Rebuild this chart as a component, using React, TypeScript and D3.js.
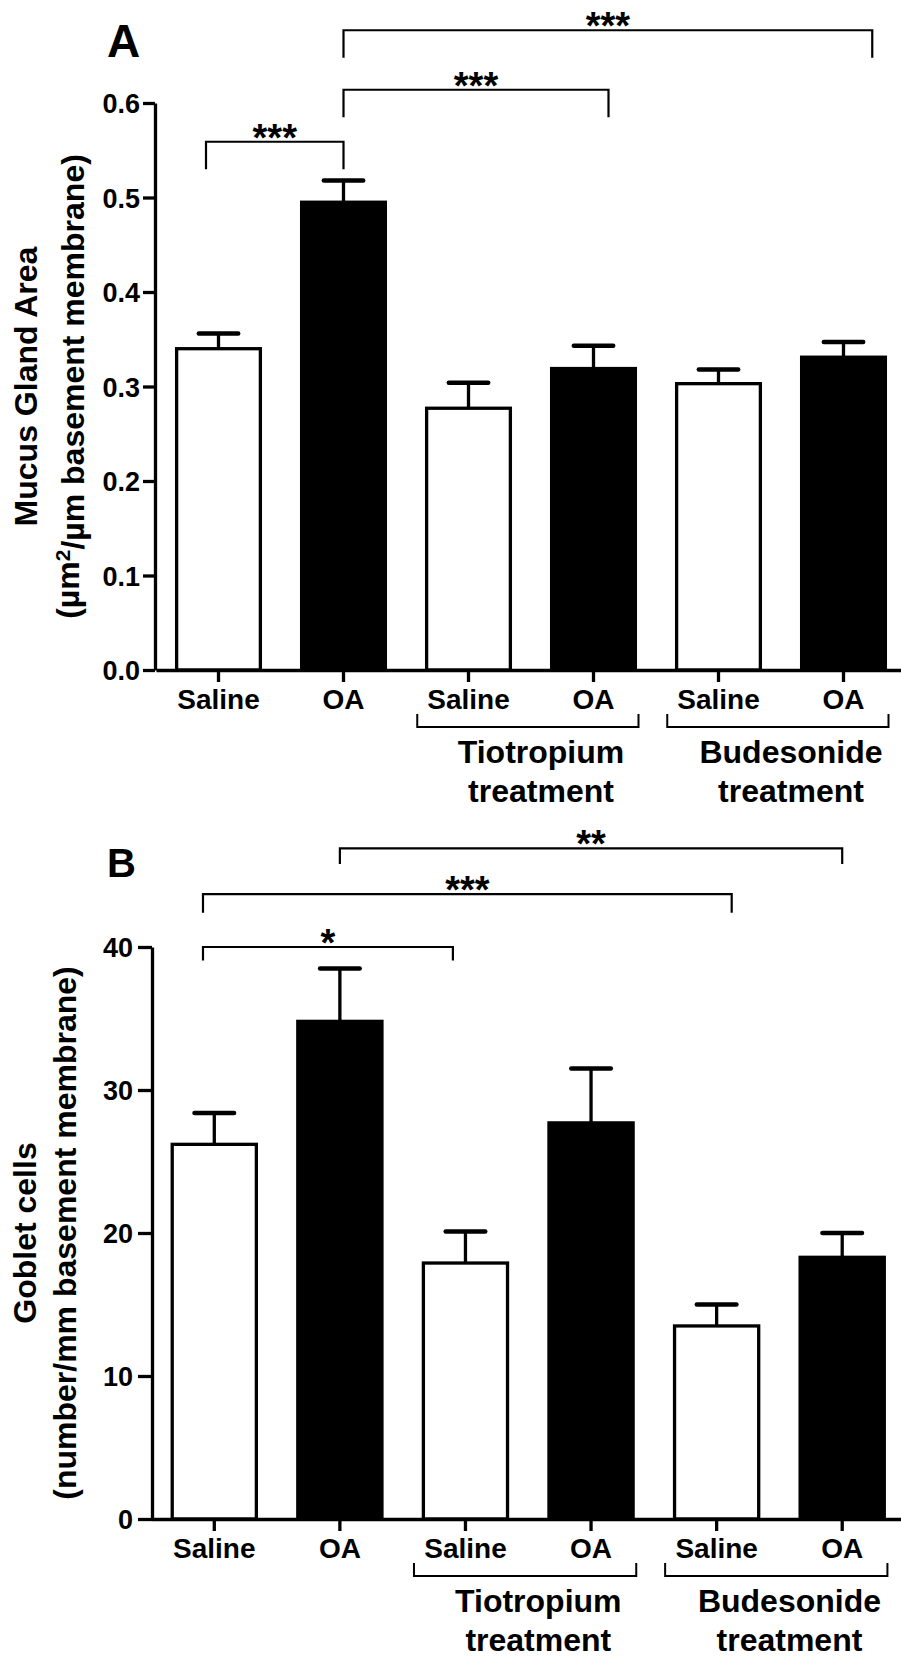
import { useEffect, useRef } from 'react'
import * as d3 from 'd3'

// categories (left to right)
const groups = ['Saline', 'OA', 'Saline', 'OA', 'Saline', 'OA']
const treatments = ['Tiotropium', 'Budesonide']
const treatmentSpan = [[2, 3], [4, 5]]

// panel A: mucus gland area
const mucusMean = [0.340, 0.495, 0.277, 0.319, 0.303, 0.331]
const mucusSem = [0.016, 0.023, 0.027, 0.024, 0.015, 0.016]
const mucusTicks = [0, 0.1, 0.2, 0.3, 0.4, 0.5, 0.6]
const mucusSig = [
  { from: -0.1, to: 1, y: 0.559, drop: 0.530, label: '***' },
  { from: 1, to: 3.12, y: 0.614, drop: 0.585, label: '***' },
  { from: 1, to: 5.23, y: 0.677, drop: 0.648, label: '***' },
]

// panel B: goblet cells
const gobletMean = [26.2, 34.8, 17.9, 27.7, 13.5, 18.3]
const gobletSem = [2.2, 3.7, 2.2, 3.8, 1.5, 1.7]
const gobletTicks = [0, 10, 20, 30, 40]
const gobletSig = [
  { from: -0.09, to: 1.9, y: 40.0, drop: 39.05, label: '*' },
  { from: -0.09, to: 4.12, y: 43.7, drop: 42.4, label: '***' },
  { from: 1, to: 5, y: 46.9, drop: 45.8, label: '**' },
]

const FONT = '"Liberation Sans", Arial, Helvetica, sans-serif'

const panels = [
  {
    letter: 'A', letterSize: 46, letterY: 57,
    axisX: 155, x0: 156, x1: 906, top: 103, bottom: 670, max: 0.6,
    ticks: mucusTicks, fmt: d3.format('.1f'), tickLen: 12, tickPad: 3,
    mean: mucusMean, sem: mucusSem, sig: mucusSig,
    titleX: [37, 79],
    title: [[{ t: 'Mucus Gland Area' }], [{ t: '(µm' }, { t: '2', sup: true }, { t: '/µm basement membrane)' }]],
  },
  {
    letter: 'B', letterSize: 40, letterY: 877,
    axisX: 152, x0: 151.5, x1: 905, top: 947, bottom: 1519, max: 40,
    ticks: gobletTicks, fmt: d3.format('d'), tickLen: 14, tickPad: 5,
    mean: gobletMean, sem: gobletSem, sig: gobletSig,
    titleX: [36, 76],
    title: [[{ t: 'Goblet cells' }], [{ t: '(number/mm basement membrane)' }]],
  },
]

function drawPanel(svg, p) {
  const g = svg.append('g')
  const idx = d3.range(groups.length)
  const x = d3.scaleBand().domain(idx).range([p.x0, p.x1]).paddingInner(0.33).paddingOuter(0.165)
  const y = d3.scaleLinear().domain([0, p.max]).range([p.bottom, p.top])
  const c0 = x(0) + x.bandwidth() / 2
  const cx = d3.scaleLinear().domain([0, 1]).range([c0, c0 + x.step()])

  // panel letter
  g.append('text')
    .attr('x', 107).attr('y', p.letterY)
    .style('font-family', FONT).style('font-weight', 'bold').style('font-size', p.letterSize + 'px')
    .text(p.letter)

  // bars
  g.selectAll('rect.bar').data(p.mean).join('rect')
    .attr('class', 'bar')
    .attr('x', (d, i) => x(i))
    .attr('y', d => y(d))
    .attr('width', x.bandwidth())
    .attr('height', d => y(0) - y(d))
    .attr('fill', (d, i) => groups[i] === 'OA' ? '#000' : '#fff')
    .attr('stroke', '#000')
    .attr('stroke-width', 3.3)

  // error bars (upper only)
  g.selectAll('line.err').data(p.mean).join('line')
    .attr('class', 'err')
    .attr('x1', (d, i) => cx(i)).attr('x2', (d, i) => cx(i))
    .attr('y1', d => y(d)).attr('y2', (d, i) => y(d + p.sem[i]))
    .attr('stroke', '#000').attr('stroke-width', 3.3)

  const capW = x.bandwidth() * 0.47
  g.selectAll('line.cap').data(p.mean).join('line')
    .attr('class', 'cap')
    .attr('x1', (d, i) => cx(i) - capW / 2).attr('x2', (d, i) => cx(i) + capW / 2)
    .attr('y1', (d, i) => y(d + p.sem[i])).attr('y2', (d, i) => y(d + p.sem[i]))
    .attr('stroke', '#000').attr('stroke-width', 4.5).attr('stroke-linecap', 'round')

  // y axis
  const yAxis = g.append('g')
    .attr('transform', `translate(${p.axisX},0)`)
    .call(d3.axisLeft(y).tickValues(p.ticks).tickFormat(p.fmt).tickSize(p.tickLen).tickSizeOuter(0).tickPadding(p.tickPad))
  yAxis.select('.domain').attr('stroke-width', 3.3)
  yAxis.selectAll('.tick line').attr('stroke-width', 3.3)
  yAxis.selectAll('.tick text')
    .attr('dy', '0.36em')
    .style('font-family', FONT).style('font-weight', 'bold').style('font-size', '27px').attr('fill', '#000')

  // x axis
  const xAxis = g.append('g')
    .attr('transform', `translate(0,${p.bottom})`)
    .call(d3.axisBottom(x).tickFormat(i => groups[i]).tickSize(12).tickSizeOuter(0))
  xAxis.select('.domain').attr('stroke-width', 3.3)
  xAxis.selectAll('.tick line').attr('stroke-width', 3.3)
  xAxis.selectAll('.tick text')
    .attr('y', 39).attr('dy', 0)
    .style('font-family', FONT).style('font-weight', 'bold').style('font-size', '28px').attr('fill', '#000')

  // treatment brackets under the axis
  treatments.forEach((name, k) => {
    const [a, b] = treatmentSpan[k]
    const xa = cx(a - 0.41), xb = cx(b + 0.36)
    const yb = p.bottom + 57, yt = p.bottom + 44
    g.append('path')
      .attr('d', `M${xa},${yt}V${yb}H${xb}V${yt}`)
      .attr('fill', 'none').attr('stroke', '#000').attr('stroke-width', 2)
    const lx = cx((a + b) / 2 + 0.08)
    g.append('text')
      .attr('x', lx).attr('y', p.bottom + 93).attr('text-anchor', 'middle')
      .style('font-family', FONT).style('font-weight', 'bold').style('font-size', '32px')
      .text(name)
    g.append('text')
      .attr('x', lx).attr('y', p.bottom + 132).attr('text-anchor', 'middle')
      .style('font-family', FONT).style('font-weight', 'bold').style('font-size', '32px')
      .text('treatment')
  })

  // significance brackets
  p.sig.forEach(s => {
    const xa = cx(s.from), xb = cx(s.to), yy = y(s.y), yd = y(s.drop)
    g.append('path')
      .attr('d', `M${xa},${yd}V${yy}H${xb}V${yd}`)
      .attr('fill', 'none').attr('stroke', '#000').attr('stroke-width', 2.2)
    g.append('text')
      .attr('x', (xa + xb) / 2).attr('y', yy + 9).attr('text-anchor', 'middle')
      .style('font-family', FONT).style('font-weight', 'bold').style('font-size', '38px')
      .text(s.label)
  })

  // y axis title (two lines, rotated)
  const mid = (p.top + p.bottom) / 2
  p.title.forEach((parts, li) => {
    const t = g.append('text')
      .attr('transform', `translate(${p.titleX[li]},${mid}) rotate(-90)`)
      .attr('text-anchor', 'middle')
      .style('font-family', FONT).style('font-weight', 'bold').style('font-size', '32px')
    parts.forEach(part => {
      const ts = t.append('tspan').text(part.t)
      if (part.sup) ts.attr('dy', '-0.45em').style('font-size', '21px')
      else if (t.selectAll('tspan').size() > 1) ts.attr('dy', '0.45em')
    })
  })
}

const App = () => {
  const svgRef = useRef(null)

  useEffect(() => {
    const svg = d3.select(svgRef.current)
    svg.selectAll('*').remove()
    panels.forEach(p => drawPanel(svg, p))
  }, [])

  return (
    <svg
      ref={svgRef}
      width={901}
      height={1657}
      style={{ position: 'absolute', left: 0, top: 0, background: '#fff' }}
    />
  )
}

export default App
